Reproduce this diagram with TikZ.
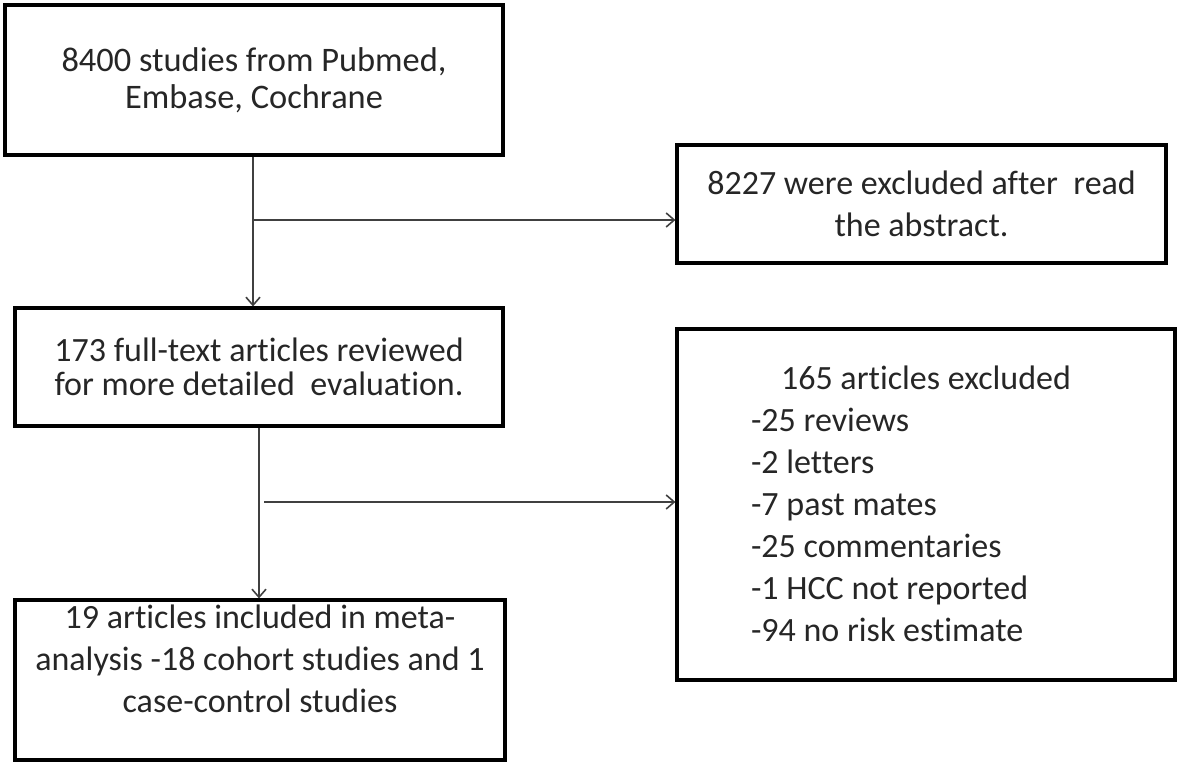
\documentclass[tikz,border=0pt]{standalone}
\usepackage{fontspec}
\setmainfont{Carlito}[Ligatures={NoCommon}]
\tikzset{
  box/.style={draw, line width=1.6pt, align=center, inner sep=0pt, text=black!85},
  link/.style={draw=black!75, line width=0.8pt, ->, >={Straight Barb[length=4pt,width=7pt]}}
}
\usetikzlibrary{arrows.meta}
\begin{document}
\begin{tikzpicture}[x=0.5pt,y=-0.5pt,font=\fontsize{17}{21}\selectfont]
      \useasboundingbox (0,0) rectangle (1181,766);
      % left column
      \node[box, minimum width=249pt, minimum height=75pt, font=\fontsize{17.2}{18.5}\selectfont] (src) at (254,80) {8400 studies from Pubmed,\\ Embase, Cochrane};
      \node[box, minimum width=244pt, minimum height=59pt, font=\fontsize{17}{17}\selectfont] (full) at (259,367) {173 full-text articles reviewed\\ for more detailed\ \ evaluation.};
      \node[box, minimum width=245pt, minimum height=80pt] (incl) at (260,680) {19 articles included in meta-\\ analysis -18 cohort studies and 1\\ case-control studies\\ \mbox{}};
      % right column
      \node[box, minimum width=244.5pt, minimum height=59pt] (ex1) at (921.5,204) {8227 were excluded after\ \ read\\ the abstract.};
      \node[box, minimum width=249pt, minimum height=175.5pt] (ex2) at (926,504.5) {};
      \node[align=left, anchor=west, text=black!85] (ex2txt) at (744,504) {\hspace*{15pt}165 articles excluded\\ -25 reviews\\ -2 letters\\ -7 past mates\\ -25 commentaries\\ -1 HCC not reported\\ -94 no risk estimate};
      % connectors
      \coordinate (j1) at (253,220);
      \coordinate (j2) at (264,502);
      \draw[link] (src.south -| j1) -- (full.north -| j1);
      \draw[link] (j1) -- (j1 -| ex1.west);
      \draw[link] (full.south -| 259,0) -- (incl.north -| 259,0);
      \draw[link] (j2) -- (j2 -| ex2.west);
    \end{tikzpicture}
\end{document}
